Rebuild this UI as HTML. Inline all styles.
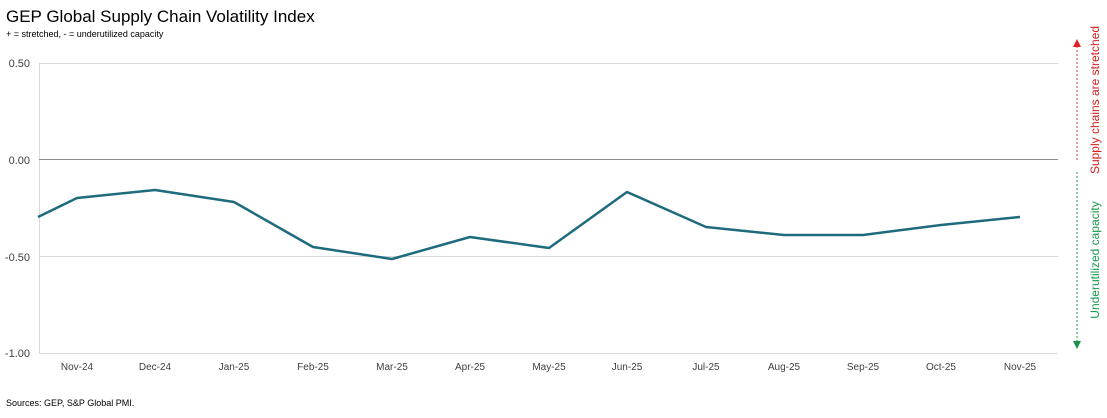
<!DOCTYPE html>
<html><head><meta charset="utf-8"><style>
html,body{margin:0;padding:0;background:#fff;}
svg{display:block;font-family:"Liberation Sans",sans-serif;}
</style></head><body>
<svg width="1107" height="418" viewBox="0 0 1107 418">
<text x="6" y="22" font-size="17" fill="#000">GEP Global Supply Chain Volatility Index</text>
<text x="6" y="37" font-size="9" fill="#000">+ = stretched, - = underutilized capacity</text>
<g stroke="#d9d9d9" stroke-width="1">
<line x1="39" y1="63.5" x2="1058" y2="63.5"/>
<line x1="39" y1="256.5" x2="1058" y2="256.5"/>
<line x1="39" y1="353.5" x2="1058" y2="353.5"/>
<line x1="39.5" y1="63" x2="39.5" y2="353"/>
</g>
<line x1="39" y1="159.5" x2="1058" y2="159.5" stroke="#8c8c8c" stroke-width="1"/>
<g font-size="11" fill="#404040" text-anchor="end">
<text x="30" y="67">0.50</text>
<text x="30" y="164">0.00</text>
<text x="30" y="261">-0.50</text>
<text x="30" y="357">-1.00</text>
</g>
<g font-size="10" fill="#404040" text-anchor="middle">
<text x="77" y="370">Nov-24</text><text x="155" y="370">Dec-24</text><text x="234" y="370">Jan-25</text>
<text x="313" y="370">Feb-25</text><text x="392" y="370">Mar-25</text><text x="470" y="370">Apr-25</text>
<text x="549" y="370">May-25</text><text x="627" y="370">Jun-25</text><text x="706" y="370">Jul-25</text>
<text x="784" y="370">Aug-25</text><text x="863" y="370">Sep-25</text><text x="941" y="370">Oct-25</text>
<text x="1020" y="370">Nov-25</text>
</g>
<polyline fill="none" stroke="#1f6b7e" stroke-width="2.5" stroke-linejoin="round" points="38,217 77,198 155,190 234,202 313,247 392,259 470,237 549,248 627,192 706,227 784,235 863,235 941,225 1020,217"/>
<line x1="1077" y1="46" x2="1077" y2="160" stroke="#e03030" stroke-width="1" stroke-dasharray="2,2"/>
<polygon points="1073,47 1081,47 1077,39" fill="#e02020"/>
<line x1="1077" y1="172" x2="1077" y2="342" stroke="#20a050" stroke-width="1" stroke-dasharray="2,2"/>
<polygon points="1073,341 1081,341 1077,349" fill="#1a9048"/>
<text transform="translate(1099,100) rotate(-90)" font-size="12" fill="#d02020" text-anchor="middle">Supply chains are stretched</text>
<text transform="translate(1099,260) rotate(-90)" font-size="12" fill="#1a9a50" text-anchor="middle">Underutilized capacity</text>
<text x="6" y="406" font-size="9" fill="#000">Sources: GEP, S&amp;P Global PMI.</text>
</svg>
</body></html>
